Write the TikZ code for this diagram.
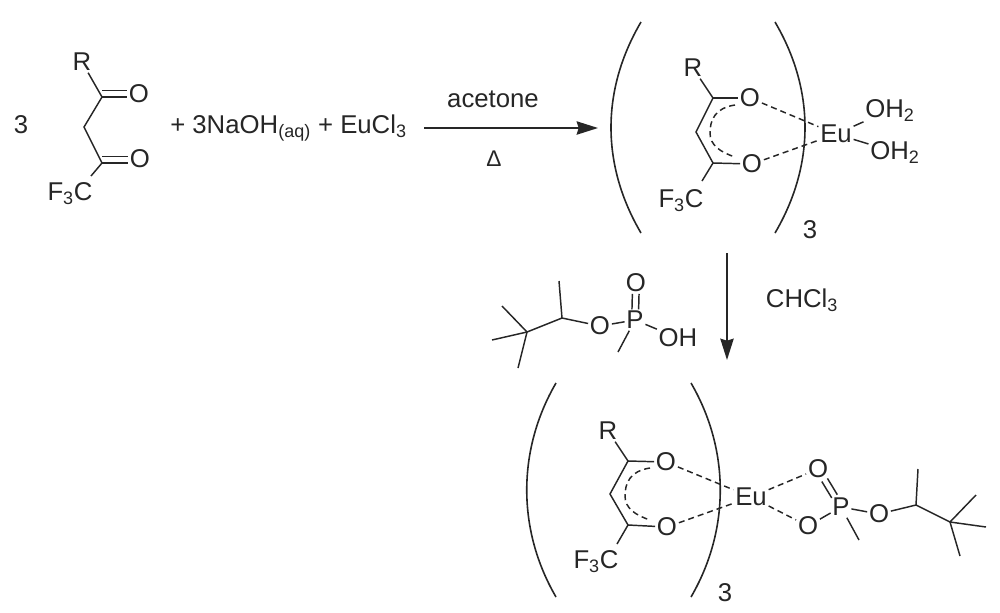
\documentclass[tikz,border=0pt]{standalone}
\usepackage{fontspec}
\setmainfont{Liberation Sans}
\usetikzlibrary{arrows.meta}
\colorlet{ink}{black!85}
\tikzset{
  atom/.style={inner sep=1.2pt,text=ink,font=\fontsize{19.3}{20}\selectfont},
  lbl/.style={inner sep=0pt,text=ink,font=\fontsize{19.3}{20}\selectfont},
  bond/.style={draw=ink,line width=1.1pt},
  coord/.style={draw=ink,line width=1.1pt,dash pattern=on 4.5pt off 3pt},
  paren/.style={draw=ink,line width=1.2pt},
  rxn/.style={draw=ink,line width=1.3pt,-{Stealth[length=16pt,width=10pt,inset=1.5pt]}}
}
\begin{document}
\begin{tikzpicture}[x=0.75pt,y=-0.75pt]
  \useasboundingbox (0,0) rectangle (1000,612);
  % starting materials
  \node[lbl] (three) at (21,125) {3};
  \node[atom] (rA) at (82,62) {R};
  \coordinate (cA) at (102,97);
  \node[atom] (oA) at (139,94) {O};
  \coordinate (chA) at (84,127);
  \coordinate (cB) at (102,163);
  \node[atom] (oB) at (140,159) {O};
  \node[atom,anchor=base] (cfA) at (70,200) {F\textsubscript{3}C};
  \coordinate (cfAend) at (91,176);
  \draw[bond] (rA) -- (cA) -- (chA) -- (cB) -- (cfAend);
  \draw[bond] (cA) -- (oA.west |- cA);
  \draw[bond] ([yshift=5pt]cA) -- ([yshift=5pt]oA.west |- cA);
  \draw[bond] (cB) -- (oB.west |- cB);
  \draw[bond] ([yshift=5pt]cB) -- ([yshift=5pt]oB.west |- cB);
  \node[lbl,anchor=base west] (reagents) at (170,133) {+ 3NaOH\textsubscript{(aq)} + EuCl\textsubscript{3}};
  % first arrow
  \coordinate (arrA) at (424,128);
  \coordinate (arrB) at (598,128);
  \draw[rxn] (arrA) -- (arrB);
  \node[lbl,anchor=base] (acetone) at (493,107) {acetone};
  \node[lbl,anchor=base,font=\fontsize{17}{18}\selectfont] (heat) at (494,166) {Δ};
  % aqua complex
  \draw[paren] (641,22) .. controls (601,90) and (601,165) .. (641,233);
  \draw[paren] (775,22) .. controls (815,90) and (815,165) .. (775,233);
  \node[atom] (rB) at (693,68) {R};
  \coordinate (cC) at (713,98);
  \node[atom] (oC) at (750,98) {O};
  \coordinate (chB) at (696,132);
  \coordinate (cD) at (713,163);
  \node[atom] (oD) at (752,164) {O};
  \node[atom,anchor=base] (cfB) at (681,207) {F\textsubscript{3}C};
  \coordinate (cfBend) at (702,181);
  \coordinate (dlA) at (735,105);
  \coordinate (dlB) at (735,157);
  \draw[bond] (rB) -- (cC) -- (chB) -- (cD) -- (cfBend);
  \draw[bond] (cC) -- (oC);
  \draw[bond] (cD) -- (oD);
  \draw[coord] (dlA) .. controls (715,108) and (710,120) .. (710,133) .. controls (710,145) and (720,152) .. (dlB);
  \node[atom] (euA) at (836,134) {Eu};
  \node[atom,anchor=base] (wA) at (890,117) {OH\textsubscript{2}};
  \node[atom,anchor=base] (wB) at (895,159) {OH\textsubscript{2}};
  \draw[coord] (oC) -- (euA);
  \draw[coord] (oD) -- (euA);
  \draw[bond] (euA) -- (wA);
  \draw[bond] (euA) -- (wB);
  \node[lbl] (nA) at (810,230) {3};
  % second arrow
  \coordinate (arrC) at (727,253);
  \coordinate (arrD) at (727,360);
  \draw[rxn] (arrC) -- (arrD);
  \node[lbl,anchor=base] (chcl) at (802,307) {CHCl\textsubscript{3}};
  % phosphonic acid
  \coordinate (meA) at (502,306);
  \coordinate (meB) at (492,340);
  \coordinate (meC) at (518,368);
  \coordinate (qA) at (527,332);
  \coordinate (chC) at (562,318);
  \coordinate (meD) at (559,281);
  \node[atom] (oE) at (600,326) {O};
  \node[atom] (pA) at (635,320) {P};
  \node[atom] (oF) at (636,283) {O};
  \node[atom] (ohA) at (678,338) {OH};
  \coordinate (meE) at (618,352);
  \draw[bond] (meA) -- (qA);
  \draw[bond] (meB) -- (qA);
  \draw[bond] (meC) -- (qA);
  \draw[bond] (qA) -- (chC) -- (oE);
  \draw[bond] (chC) -- (meD);
  \draw[bond] (oE) -- (pA);
  \draw[bond] (pA) -- (ohA);
  \draw[bond] (pA) -- (meE);
  \draw[bond,transform canvas={xshift=-2.5pt}] (pA) -- (oF);
  \draw[bond,transform canvas={xshift=2.5pt}] (pA) -- (oF);
  % phosphonate complex
  \draw[paren] (556,383) .. controls (517,450) and (517,530) .. (556,597);
  \draw[paren] (691,383) .. controls (730,450) and (730,530) .. (691,597);
  \node[atom] (rC) at (608,431) {R};
  \coordinate (cE) at (628,461);
  \node[atom] (oG) at (666,462) {O};
  \coordinate (chD) at (610,494);
  \coordinate (cF) at (628,525);
  \node[atom] (oH) at (667,527) {O};
  \node[atom,anchor=base] (cfC) at (596,568) {F\textsubscript{3}C};
  \coordinate (cfCend) at (617,544);
  \coordinate (dlC) at (650,468);
  \coordinate (dlD) at (650,520);
  \draw[bond] (rC) -- (cE) -- (chD) -- (cF) -- (cfCend);
  \draw[bond] (cE) -- (oG);
  \draw[bond] (cF) -- (oH);
  \draw[coord] (dlC) .. controls (630,471) and (625,483) .. (625,496) .. controls (625,508) and (635,515) .. (dlD);
  \node[atom] (euB) at (751,497) {Eu};
  \node[atom] (oI) at (818,469) {O};
  \node[atom] (oJ) at (808,526) {O};
  \node[atom] (pB) at (841,507) {P};
  \node[atom] (oK) at (879,514) {O};
  \coordinate (chE) at (916,505);
  \coordinate (meF) at (918,469);
  \coordinate (qB) at (950,522);
  \coordinate (meG) at (976,495);
  \coordinate (meH) at (986,527);
  \coordinate (meI) at (960,556);
  \coordinate (meJ) at (859,540);
  \draw[coord] (oG) -- (euB);
  \draw[coord] (oH) -- (euB);
  \draw[coord] (euB) -- (oI);
  \draw[coord] (euB) -- (oJ);
  \draw[bond,transform canvas={shift={(-2.1pt,-1.2pt)}}] (pB) -- (oI);
  \draw[bond,transform canvas={shift={(2.1pt,1.2pt)}}] (pB) -- (oI);
  \draw[bond] (oJ) -- (pB);
  \draw[bond] (pB) -- (oK);
  \draw[bond] (pB) -- (meJ);
  \draw[bond] (oK) -- (chE) -- (qB);
  \draw[bond] (chE) -- (meF);
  \draw[bond] (qB) -- (meG);
  \draw[bond] (qB) -- (meH);
  \draw[bond] (qB) -- (meI);
  \node[lbl] (nB) at (725,593) {3};
\end{tikzpicture}
\end{document}
